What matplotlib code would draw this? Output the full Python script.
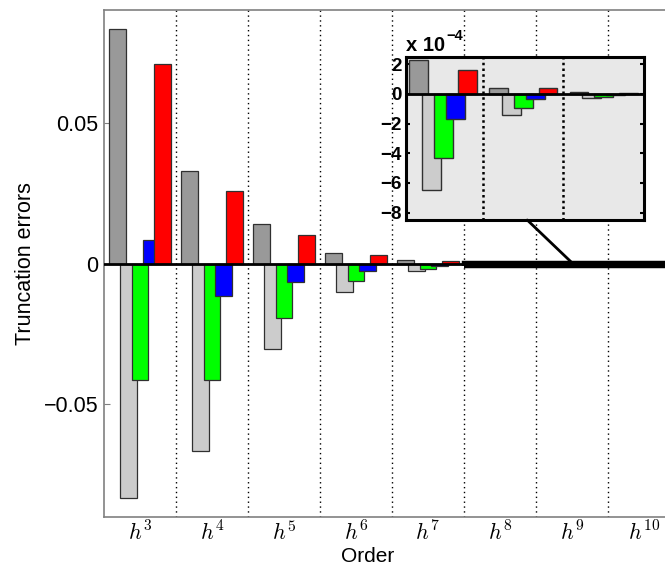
import matplotlib
matplotlib.use('Agg')
import matplotlib.pyplot as plt
import numpy as np
from matplotlib.patches import Rectangle, ConnectionPatch

plt.rcParams['font.family'] = ['Liberation Sans', 'DejaVu Sans']
plt.rcParams['mathtext.fontset'] = 'cm'

# ---- data ----
orders = ['$h^{3}$', '$h^{4}$', '$h^{5}$', '$h^{6}$', '$h^{7}$', '$h^{8}$', '$h^{9}$', '$h^{10}$']
dark_gray = [0.0834, 0.0331, 0.0139, 0.0039, 0.0014, 2.3e-4, 0.42e-4, 0.11e-4]
light_gray = [-0.0837, -0.0669, -0.0306, -0.0103, -0.0026, -6.5e-4, -1.42e-4, -0.28e-4]
green = [-0.0416, -0.0416, -0.0195, -0.0063, -0.0018, -4.33e-4, -0.96e-4, -0.19e-4]
blue = [0.0083, -0.0117, -0.0065, -0.0026, -0.0010, -1.73e-4, -0.36e-4, -0.06e-4]
red = [0.0709, 0.0258, 0.0103, 0.0031, 0.0009, 1.63e-4, 0.36e-4, 0.03e-4]
series = [dark_gray, light_gray, green, blue, red]
colors = ['#999999', '#cccccc', '#00ff00', '#0000ff', '#ff0000']
yticks = [-0.05, 0, 0.05]
ytick_labels = ['\u22120.05', '0', '0.05']
inset_yticks = [-8, -6, -4, -2, 0, 2]
inset_scale = 1e-4

W, H = 665, 576
fig = plt.figure(figsize=(W / 100, H / 100), dpi=100)
ax = fig.add_axes([104 / W, (H - 517) / H, 576 / W, 507 / H])

x = np.arange(len(orders)) + 0.5
offsets = [-0.306, -0.153, 0.0, 0.153, 0.306]
width = 0.236
for vals, col, off in zip(series, colors, offsets):
    ax.bar(x + off, vals, width, color=col, edgecolor='#303030', linewidth=0.9, zorder=2)
ax.axhline(0, color='black', lw=2, zorder=3)
for b in range(1, len(orders)):
    ax.axvline(b, color='black', lw=1, linestyle=(0, (1, 2.5)), zorder=1)
ax.set_xlim(0, len(orders))
ax.set_ylim(-0.0903, 0.0903)
ax.set_yticks(yticks)
ax.set_yticklabels(ytick_labels)
ax.set_xticks(x)
ax.set_xticklabels(orders, fontsize=16)
ax.tick_params(axis='x', length=0, pad=3)
ax.tick_params(axis='y', direction='in', length=4, color='#808080', labelsize=15.5, pad=4)
for s in ax.spines.values():
    s.set_color('#808080')
    s.set_linewidth(1.2)
ax.set_xlabel('Order', fontsize=15)
ax.xaxis.set_label_coords((368 - 104) / 576, -(547 - 517) / 507)
ax.set_ylabel('Truncation errors', fontsize=15.5)
ax.yaxis.set_label_coords((36 - 104) / 576, 0.5)

# ---- inset ----
axin = fig.add_axes([405.7 / W, (H - 220) / H, (644 - 405.7) / W, (220 - 56.7) / H])
axin.set_facecolor('#e8e8e8')
for vals, col, off in zip(series, colors, offsets):
    axin.bar(x + off, np.array(vals) / inset_scale, width, color=col, edgecolor='#303030',
             linewidth=1.0, zorder=2)
axin.axhline(0, color='black', lw=2, zorder=3)
for b in range(1, len(orders)):
    axin.axvline(b, color='black', lw=1.8, linestyle=(0, (1, 1.3)), zorder=1)
axin.set_xlim(5.03, 8.005)
axin.set_ylim(-8.5, 2.5)
axin.set_xticks([])
axin.set_yticks(inset_yticks)
axin.set_yticklabels([('\u2212' + str(-t)) if t < 0 else str(t) for t in inset_yticks],
                     fontsize=13.5, fontweight='bold')
axin.tick_params(axis='y', direction='in', length=3, width=1.5, right=True, pad=3)
for s in axin.spines.values():
    s.set_color('black')
    s.set_linewidth(2.2)
fig.text(406 / W, 1 - 51 / H, 'x 10', fontsize=14.5, fontweight='bold', va='baseline', ha='left')
fig.text(446 / W, 1 - 40 / H, '\u22124', fontsize=10.5, fontweight='bold', va='baseline', ha='left')

# zoom indicator rectangle and connector
ylo, yhi = axin.get_ylim()
rect = Rectangle((5.0, ylo * inset_scale), 3.5, (yhi - ylo) * inset_scale, fill=False,
                 edgecolor='black', linewidth=3.2, zorder=4)
ax.add_patch(rect)
con = ConnectionPatch(xyA=(0.51, 0), coordsA=axin.transAxes,
                      xyB=(6.5, yhi * inset_scale), coordsB=ax.transData,
                      color='black', lw=2)
fig.add_artist(con)

fig.savefig('out.png', dpi=100)
